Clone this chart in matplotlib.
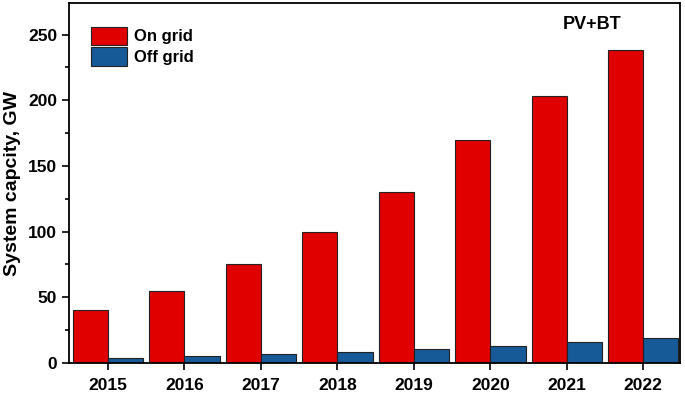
import numpy as np
import matplotlib.pyplot as plt
from matplotlib.ticker import MultipleLocator

years = [2015, 2016, 2017, 2018, 2019, 2020, 2021, 2022]
on_grid = [40, 55, 75, 100, 130, 170, 203, 238]
off_grid = [4, 5, 6.5, 8.5, 10.5, 13, 16, 19]

plt.rcParams['font.family'] = ['Liberation Sans', 'DejaVu Sans']
plt.rcParams['font.weight'] = 'bold'

fig = plt.figure(figsize=(6.85, 3.93), dpi=100)
ax = fig.add_axes([0.1007, 0.0763, 0.892, 0.916])

x = np.array(years)
w = 0.46
ax.bar(x - w / 2, on_grid, width=w, color='#e00000', edgecolor='#222222', linewidth=0.8, label='On grid')
ax.bar(x + w / 2, off_grid, width=w, color='#175a98', edgecolor='#222222', linewidth=0.8, label='Off grid')

ax.set_xlim(2014.49, 2022.48)
ax.set_ylim(0, 274)
ax.set_xticks(years)
ax.yaxis.set_major_locator(MultipleLocator(50))
ax.yaxis.set_minor_locator(MultipleLocator(25))
ax.tick_params(axis='both', which='major', direction='out', length=5, width=1.2, labelsize=12.5)
ax.tick_params(axis='x', which='major', pad=6)
ax.tick_params(axis='y', which='minor', direction='out', length=3, width=1.2)
for lab in ax.get_xticklabels() + ax.get_yticklabels():
    lab.set_fontweight('bold')
for s in ax.spines.values():
    s.set_linewidth(1.3)

ax.set_ylabel('System capcity, GW', fontsize=14, fontweight='bold', labelpad=5)
ax.text(0.856, 0.939, 'PV+BT', transform=ax.transAxes, fontsize=13, fontweight='bold', ha='center', va='center')

ax.legend(loc='upper left', bbox_to_anchor=(0.02, 0.962), frameon=False, fontsize=12,
          handlelength=2.15, handleheight=1.3, handletextpad=0.4, labelspacing=0.15, borderaxespad=0.2)

fig.savefig('out.png', dpi=100)
